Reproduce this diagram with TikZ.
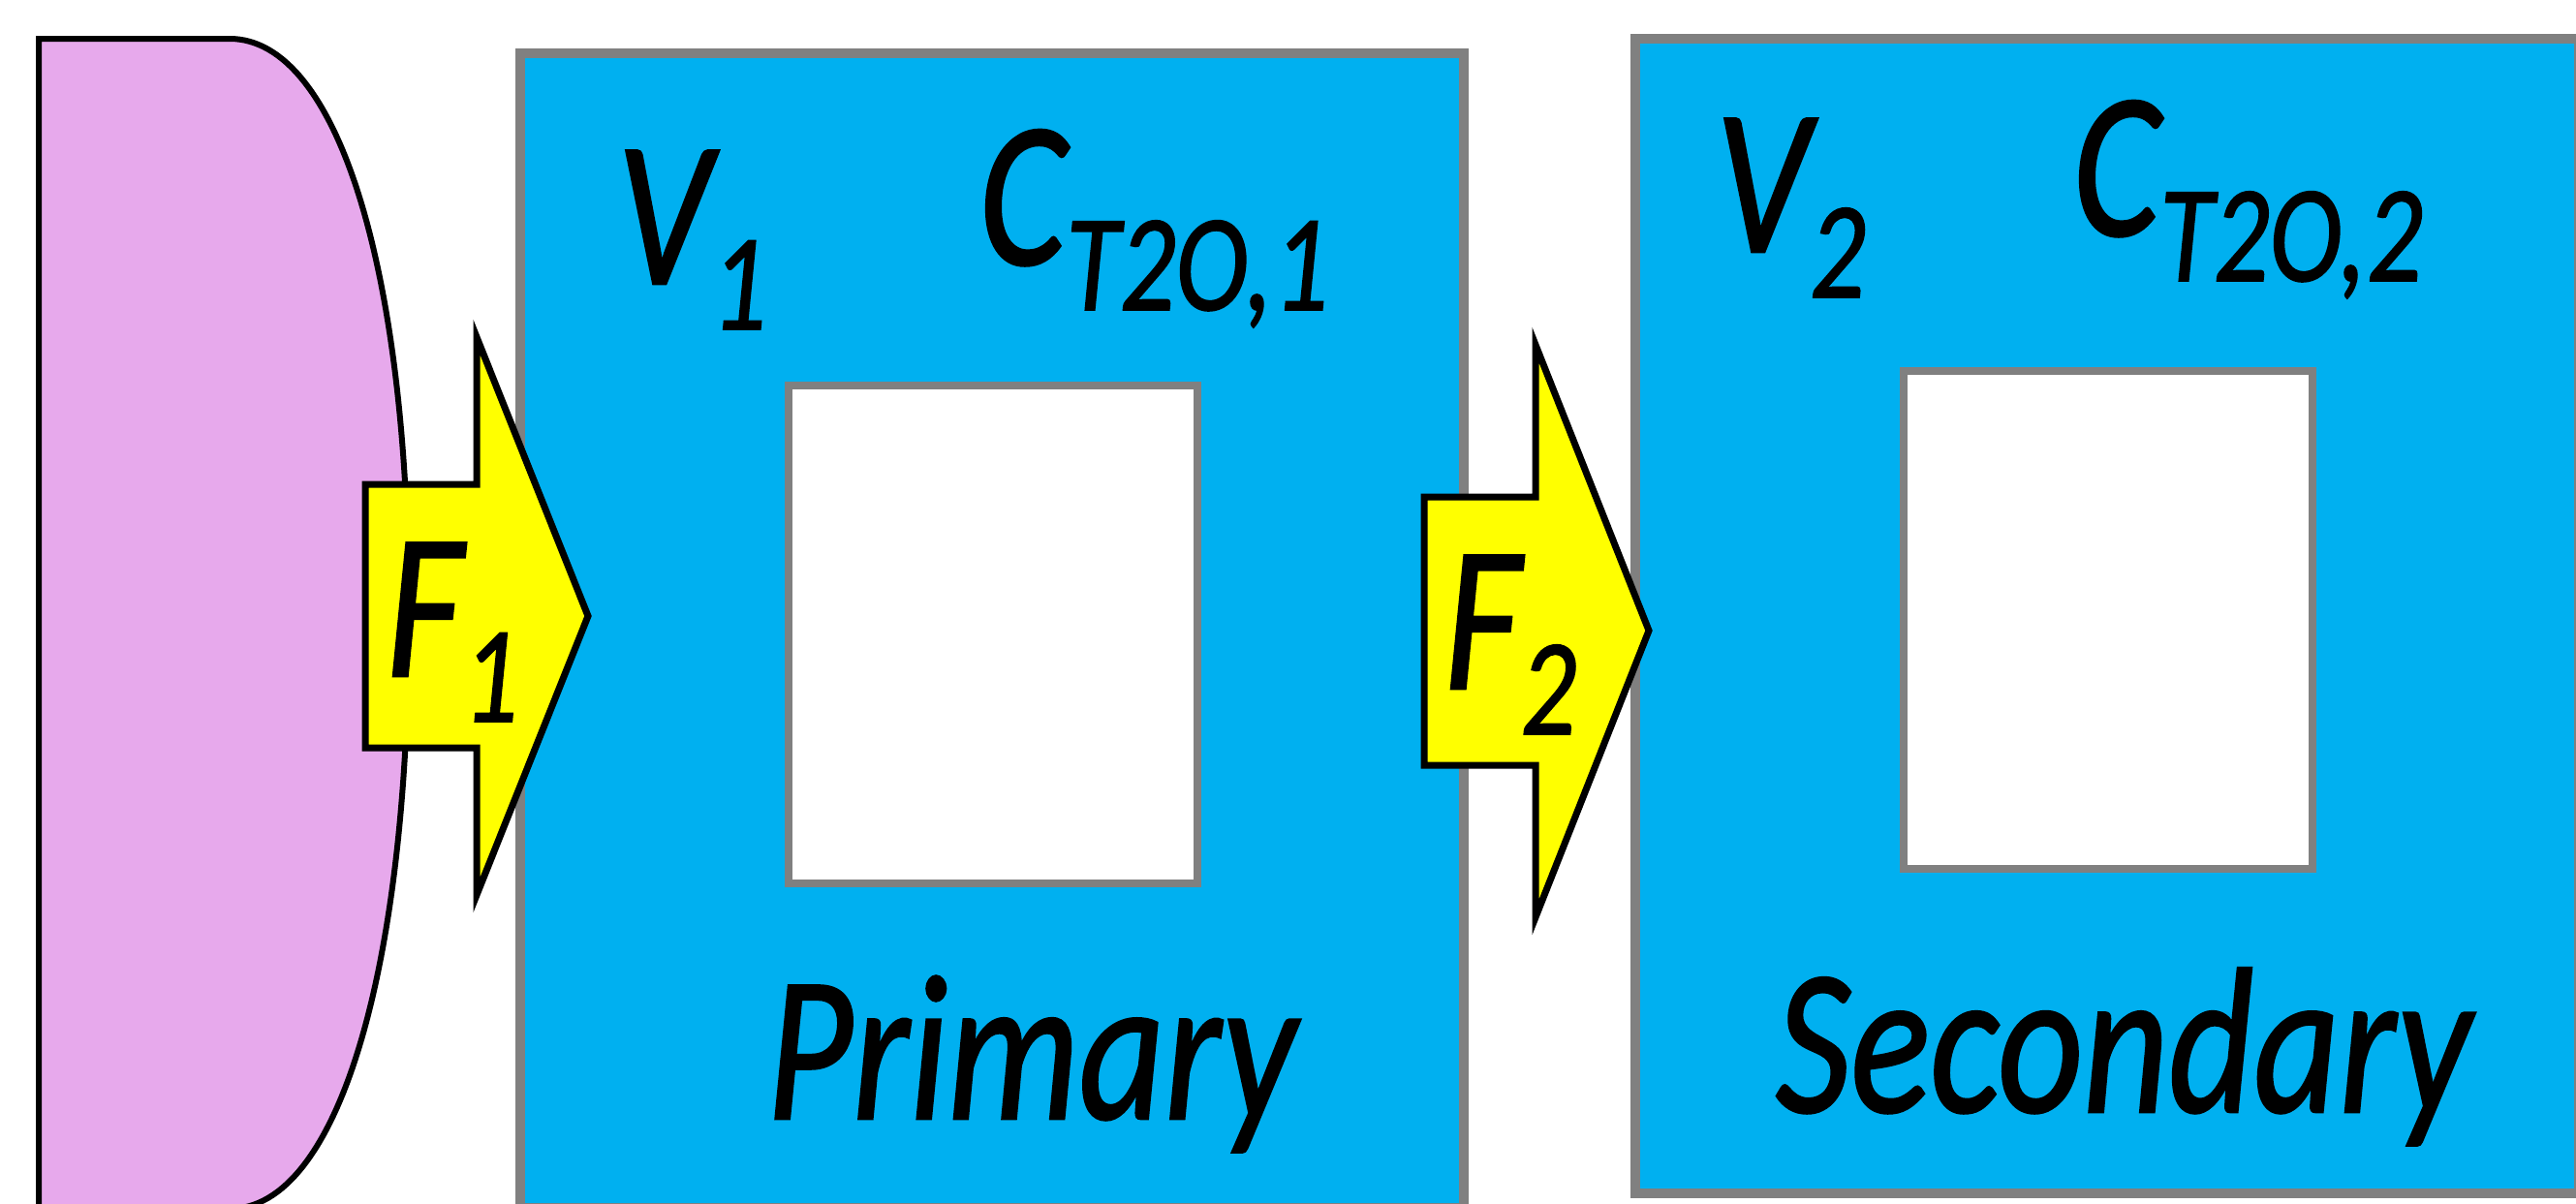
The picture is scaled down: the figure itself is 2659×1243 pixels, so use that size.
\documentclass[tikz,border=0pt]{standalone}
\usepackage{fontspec}
\setmainfont{Carlito}
\newfontface\labelfont{Carlito Italic}[FakeBold=1.2]
\usepackage{graphicx}
\definecolor{tankblue}{RGB}{0,176,240}
\definecolor{feedpink}{RGB}{231,169,236}
\definecolor{flowyellow}{RGB}{255,255,0}
\definecolor{edgegray}{RGB}{128,128,128}
\newcommand{\bigit}{\fontsize{61}{64}\selectfont\labelfont}
\newcommand{\smallit}{\fontsize{40.5}{42}\selectfont\labelfont}
\newcommand{\varlabel}[2]{\scalebox{0.8}[1]{\bigit #1\raisebox{-4.7mm}{\smallit #2}}}
\newcommand{\tanklabel}[1]{\scalebox{0.8}[1]{\bigit #1}}

\begin{document}
\begin{tikzpicture}[x=0.1mm,y=-0.1mm,
    tank/.style={draw=edgegray,line width=1mm,fill=tankblue},
    core/.style={draw=edgegray,line width=0.8mm,fill=white},
    flow/.style={draw=black,line width=0.7mm,fill=flowyellow},
    lbl/.style={inner sep=0pt,anchor=base west}]
    \useasboundingbox (0,0) rectangle (2659,1243);
    \clip (0,0) rectangle (2659,1243);
    % Feed (pink, rounded on the right)
    \draw[fill=feedpink,line width=0.6mm] (40,1300) -- (40,40) -- (237,40)
        .. controls (348,40) and (422,278) .. (422,636)
        .. controls (422,1003) and (348,1248) .. (237,1248) -- (40,1248) -- cycle;
    % Primary tank with its core
    \draw[tank] (537,55) rectangle (1511,1247);
    \draw[core] (814,398) rectangle (1236,912);
    % Secondary tank with its core
    \draw[tank] (1688,40) rectangle (2662,1232);
    \draw[core] (1965,383) rectangle (2387,897);
    % Flow arrows
    \draw[flow] (377,500) -- (492,500) -- (492,348) -- (607,636) -- (492,924)
        -- (492,772) -- (377,772) -- cycle;
    \draw[flow] (1470,513) -- (1585,513) -- (1585,356) -- (1702,651) -- (1585,947)
        -- (1585,790) -- (1470,790) -- cycle;
    % Labels
    \node[lbl] (f1) at (398,698) {\varlabel{F}{1}};
    \node[lbl] (f2) at (1490,711) {\varlabel{F}{2}};
    \node[lbl] (v1) at (636,293) {\varlabel{V}{1}};
    \node[lbl] (c1) at (1010,273) {\varlabel{C}{T2O,1}};
    \node[lbl] (v2) at (1770,260) {\varlabel{V}{2}};
    \node[lbl] (c2) at (2139,243) {\varlabel{C}{T2O,2}};
    \node[inner sep=0pt,anchor=base] (prim) at (1065,1155) {\tanklabel{Primary}};
    \node[inner sep=0pt,anchor=base] (sec) at (2192,1148) {\tanklabel{Secondary}};
\end{tikzpicture}
\end{document}
